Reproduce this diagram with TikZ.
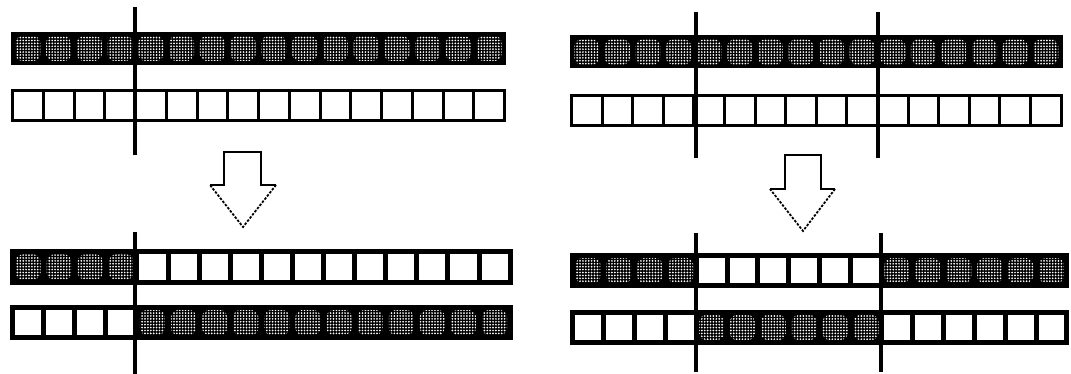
\documentclass[tikz,border=0pt]{standalone}
\usepackage{tikz}
\usetikzlibrary{patterns.meta}

\begin{document}
\begin{tikzpicture}[
  x=1pt, y=-1pt,
  gene/.style={minimum height=30pt, inner sep=0pt, outer sep=0pt, draw=black, line width=3pt},
  onegene/.style={gene, fill=white},
  zerogene/.style={gene, fill=black, path picture={\fill[pattern={Dots[radius=0.95pt, distance=2.9pt]}, pattern color=white, rounded corners=7pt] ([shift={(-12.5pt,-12.5pt)}]path picture bounding box.center) rectangle ([shift={(12.5pt,12.5pt)}]path picture bounding box.center);}},
  thickgap/.style={line width=5pt},
  cut/.style={line width=3.2pt},
  arrowedge/.style={line width=1.8pt, line join=miter},
]
\useasboundingbox (0,0) rectangle (1071,374);

% One-point crossover (left)
\foreach \i in {0,...,15}
  \node[zerogene, minimum width=30.75pt] (la\i) at ({12.5+(\i+0.5)*30.75}, 48.5) {};
\foreach \i in {0,...,15}
  \node[onegene, minimum width=30.75pt] (lb\i) at ({12.5+(\i+0.5)*30.75}, 105.5) {};
\foreach \i in {0,...,3}
  \node[zerogene, thickgap, minimum width=31.1pt] (lc\i) at ({12.5+(\i+0.5)*31.1}, 267) {};
\foreach \i in {4,...,15}
  \node[onegene, thickgap, minimum width=31.1pt] (lc\i) at ({12.5+(\i+0.5)*31.1}, 267) {};
\foreach \i in {0,...,3}
  \node[onegene, thickgap, minimum width=31.1pt] (ld\i) at ({12.5+(\i+0.5)*31.1}, 322.5) {};
\foreach \i in {4,...,15}
  \node[zerogene, thickgap, minimum width=31.1pt] (ld\i) at ({12.5+(\i+0.5)*31.1}, 322.5) {};

\coordinate (lcutA) at (135,7);
\coordinate (lcutB) at (135,155);
\coordinate (lcutC) at (135,232);
\coordinate (lcutD) at (135,374);
\draw[cut] (lcutA) -- (lcutB);
\draw[cut] (lcutC) -- (lcutD);

\fill[white] (210,185) -- (224,185) -- (224,152) -- (261,152) -- (261,185) -- (276,185) -- (243,227) -- cycle;
\draw[arrowedge] (210,185) -- (224,185) -- (224,152) -- (261,152) -- (261,185) -- (276,185);
\draw[arrowedge, dash pattern=on 2.5pt off 1.5pt] (276,185) -- (243,227) -- (210,185);

% Two-point crossover (right)
\foreach \i in {0,...,15}
  \node[zerogene, minimum width=30.6pt] (ra\i) at ({571.5+(\i+0.5)*30.6}, 52) {};
\foreach \i in {0,...,15}
  \node[onegene, minimum width=30.6pt] (rb\i) at ({571.5+(\i+0.5)*30.6}, 110.5) {};
\foreach \i in {0,...,3,10,11,...,15}
  \node[zerogene, thickgap, minimum width=30.9pt] (rc\i) at ({572.5+(\i+0.5)*30.9}, 270.5) {};
\foreach \i in {4,...,9}
  \node[onegene, thickgap, minimum width=30.9pt] (rc\i) at ({572.5+(\i+0.5)*30.9}, 270.5) {};
\foreach \i in {0,...,3,10,11,...,15}
  \node[onegene, thickgap, minimum width=30.9pt] (rd\i) at ({572.5+(\i+0.5)*30.9}, 327.5) {};
\foreach \i in {4,...,9}
  \node[zerogene, thickgap, minimum width=30.9pt] (rd\i) at ({572.5+(\i+0.5)*30.9}, 327.5) {};

\coordinate (rcutA) at (696,12);
\coordinate (rcutB) at (696,158);
\coordinate (rcutC) at (696,233);
\coordinate (rcutD) at (696,372);
\coordinate (rcutE) at (878,12);
\coordinate (rcutF) at (878,158);
\coordinate (rcutG) at (881,233);
\coordinate (rcutH) at (881,372);
\draw[cut] (rcutA) -- (rcutB);
\draw[cut] (rcutC) -- (rcutD);
\draw[cut] (rcutE) -- (rcutF);
\draw[cut] (rcutG) -- (rcutH);

\fill[white] (770,189) -- (785,189) -- (785,155) -- (821,155) -- (821,189) -- (835,189) -- (803,231) -- cycle;
\draw[arrowedge] (770,189) -- (785,189) -- (785,155) -- (821,155) -- (821,189) -- (835,189);
\draw[arrowedge, dash pattern=on 2.5pt off 1.5pt] (835,189) -- (803,231) -- (770,189);
\end{tikzpicture}
\end{document}
